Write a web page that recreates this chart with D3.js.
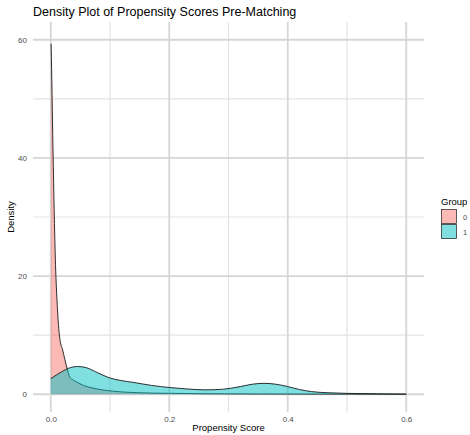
<!DOCTYPE html>
<html>
<head>
<meta charset="utf-8">
<title>Density Plot of Propensity Scores Pre-Matching</title>
<script src="https://cdn.jsdelivr.net/npm/d3@7"></script>
<style>
  body { margin: 0; background: #fff; }
  text { font-family: "Liberation Sans", Arial, sans-serif; }
  .tick text { fill: #4d4d4d; font-size: 8px; }
</style>
</head>
<body>
<script>
// group 0 density curve
var x0 = [0.0005, 0.001, 0.004, 0.008, 0.011, 0.015, 0.02, 0.027, 0.032, 0.038, 0.047, 0.055, 0.071, 0.09, 0.12, 0.15, 0.2, 0.25, 0.3, 0.35, 0.4, 0.45, 0.5, 0.55, 0.6];
var y0 = [59.3, 57, 40, 22, 15, 9.6, 7.5, 4.6, 2.9, 2.4, 1.9, 1.5, 1.05, 0.7, 0.4, 0.25, 0.16, 0.1, 0.07, 0.05, 0.04, 0.03, 0.02, 0.01, 0.005];
// group 1 density curve
var x1 = [0, 0.01, 0.02, 0.03, 0.045, 0.06, 0.08, 0.1, 0.12, 0.14, 0.17, 0.2, 0.23, 0.26, 0.29, 0.32, 0.34, 0.36, 0.38, 0.4, 0.42, 0.44, 0.47, 0.5, 0.55, 0.6];
var y1 = [2.65, 3.3, 3.9, 4.4, 4.7, 4.5, 3.6, 2.75, 2.3, 2.0, 1.5, 1.15, 0.9, 0.75, 0.85, 1.3, 1.7, 1.85, 1.7, 1.3, 0.8, 0.45, 0.25, 0.15, 0.08, 0.03];

var groups = ["0", "1"];
var colors = ["#F8766D", "#00BFC4"];
var xTicks = [0, 0.2, 0.4, 0.6];
var xMinor = [0.1, 0.3, 0.5];
var yTicks = [0, 20, 40, 60];
var yMinor = [10, 30, 50];

var width = 470, height = 435;
var pLeft = 33, pRight = 424, pTop = 22, pBottom = 412;

var svg = d3.select("body").append("svg")
  .attr("width", width)
  .attr("height", height);

var x = d3.scaleLinear().domain([-0.03, 0.63]).range([pLeft, pRight]);
var y = d3.scaleLinear().domain([-3, 63]).range([pBottom, pTop]);

// grid
var grid = svg.append("g");
grid.selectAll(".vmin").data(xMinor).enter().append("line")
  .attr("x1", d => x(d)).attr("x2", d => x(d))
  .attr("y1", pTop).attr("y2", pBottom)
  .attr("stroke", "#e3e3e3").attr("stroke-width", 1.2);
grid.selectAll(".hmin").data(yMinor).enter().append("line")
  .attr("x1", pLeft).attr("x2", pRight)
  .attr("y1", d => y(d)).attr("y2", d => y(d))
  .attr("stroke", "#e3e3e3").attr("stroke-width", 1.2);
grid.selectAll(".vmaj").data(xTicks).enter().append("line")
  .attr("x1", d => x(d)).attr("x2", d => x(d))
  .attr("y1", pTop).attr("y2", pBottom)
  .attr("stroke", "#d6d6d6").attr("stroke-width", 1.8);
grid.selectAll(".hmaj").data(yTicks).enter().append("line")
  .attr("x1", pLeft).attr("x2", pRight)
  .attr("y1", d => y(d)).attr("y2", d => y(d))
  .attr("stroke", "#d6d6d6").attr("stroke-width", 1.8);

// densities
var series = [
  { key: groups[0], pts: x0.map((v, i) => [v, y0[i]]) },
  { key: groups[1], pts: x1.map((v, i) => [v, y1[i]]) }
];

var area = d3.area()
  .x(d => x(d[0])).y0(y(0)).y1(d => y(d[1]))
  .curve(d3.curveMonotoneX);
var line = d3.line()
  .x(d => x(d[0])).y(d => y(d[1]))
  .curve(d3.curveMonotoneX);

series.forEach(function(s, i) {
  svg.append("path").datum(s.pts)
    .attr("d", area)
    .attr("fill", colors[i]).attr("fill-opacity", 0.5);
  svg.append("path").datum(s.pts)
    .attr("d", line)
    .attr("fill", "none").attr("stroke", "#1a1a1a").attr("stroke-width", 0.9);
});

// axes
var xAxis = d3.axisBottom(x).tickValues(xTicks).tickSize(0).tickPadding(4)
  .tickFormat(d3.format(".1f"));
svg.append("g").attr("transform", "translate(0," + pBottom + ")").call(xAxis)
  .call(g => g.select(".domain").remove());

var yAxis = d3.axisLeft(y).tickValues(yTicks).tickSize(0).tickPadding(6);
svg.append("g").attr("transform", "translate(" + pLeft + ",0)").call(yAxis)
  .call(g => g.select(".domain").remove());

// titles
svg.append("text").attr("x", pLeft).attr("y", 16)
  .attr("font-size", 12.5).attr("fill", "#000")
  .text("Density Plot of Propensity Scores Pre-Matching");
svg.append("text").attr("x", (pLeft + pRight) / 2).attr("y", 431)
  .attr("text-anchor", "middle").attr("font-size", 9.5)
  .text("Propensity Score");
svg.append("text")
  .attr("transform", "translate(14," + ((pTop + pBottom) / 2) + ") rotate(-90)")
  .attr("text-anchor", "middle").attr("font-size", 9.5)
  .text("Density");

// legend
var lg = svg.append("g").attr("transform", "translate(441,200)");
lg.append("text").attr("x", 0).attr("y", 5).attr("font-size", 9.5).text("Group");
groups.forEach(function(g, i) {
  lg.append("rect").attr("x", 0.5).attr("y", 9.5 + i * 15)
    .attr("width", 15).attr("height", 14)
    .attr("fill", colors[i]).attr("fill-opacity", 0.5)
    .attr("stroke", "#1a1a1a").attr("stroke-width", 0.7);
  lg.append("text").attr("x", 22).attr("y", 19.5 + i * 15)
    .attr("font-size", 7.5).attr("fill", "#4d4d4d").text(g);
});
</script>
</body>
</html>
